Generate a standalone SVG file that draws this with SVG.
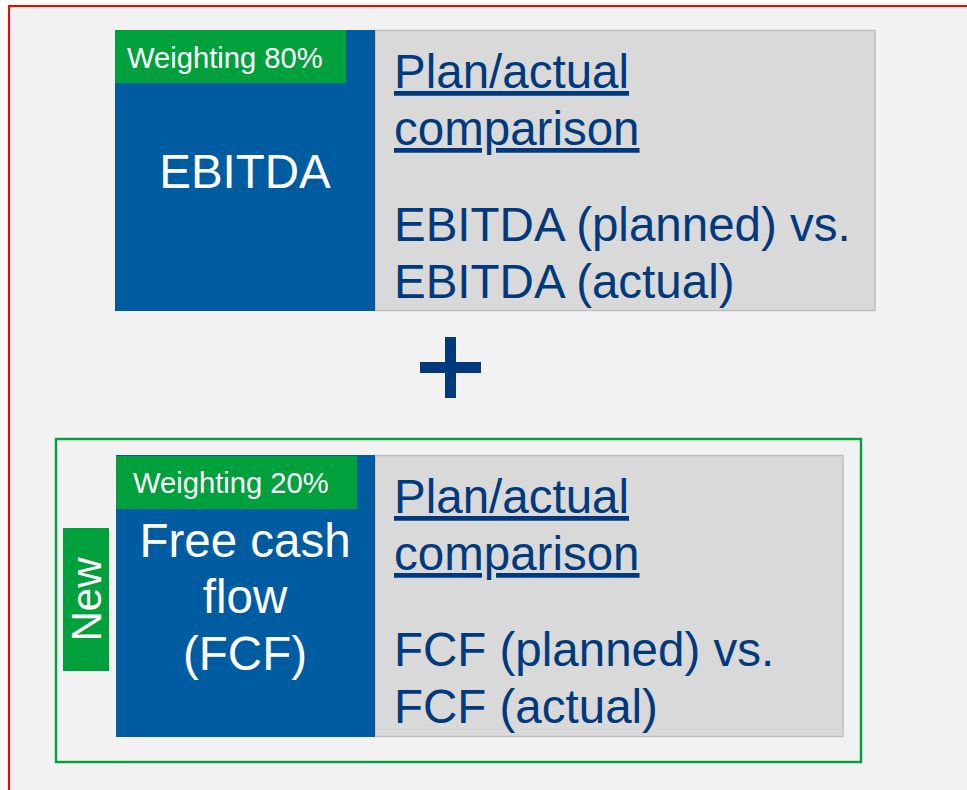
<svg xmlns="http://www.w3.org/2000/svg" width="967" height="790" viewBox="0 0 967 790">
  <style>
    text { font-family: "Liberation Sans", Arial, sans-serif; }
    .kpi { fill: #005ca1; }
    .detail { fill: #d9d9d9; stroke: #c0c0c0; stroke-width: 1.5; }
    .tag { fill: #00a03c; }
    .tag-text { fill: #ffffff; font-size: 29.2px; }
    .kpi-text { fill: #ffffff; font-size: 47.5px; text-anchor: middle; }
    .detail-text { fill: #003a7d; font-size: 47.5px; }
    .ul { text-decoration: underline; }
    .plus { fill: #003a7d; }
  </style>

  <!-- page background and frame -->
  <rect x="0" y="0" width="967" height="790" fill="#ffffff"/>
  <rect x="9" y="6" width="970" height="800" fill="#f2f2f2" stroke="#ff0000" stroke-width="2"/>

  <!-- EBITDA block -->
  <g id="ebitda">
    <rect class="detail" x="375" y="30.5" width="500" height="280"/>
    <rect class="kpi" x="115" y="30" width="260" height="281"/>
    <rect class="tag" x="115" y="30" width="231" height="53"/>
    <text class="tag-text" x="127" y="68">Weighting 80%</text>
    <text class="kpi-text" x="245" y="188">EBITDA</text>
    <text class="detail-text" x="394" y="88"><tspan class="ul">Plan/actual</tspan></text>
    <text class="detail-text" x="394" y="145"><tspan class="ul">comparison</tspan></text>
    <text class="detail-text" x="394" y="241">EBITDA (planned) vs.</text>
    <text class="detail-text" x="394" y="298">EBITDA (actual)</text>
  </g>

  <!-- plus sign -->
  <g id="plus">
    <rect class="plus" x="445" y="337" width="11" height="61"/>
    <rect class="plus" x="420" y="362" width="61" height="11"/>
  </g>

  <!-- new KPI frame -->
  <g id="new-frame">
    <rect x="56" y="439" width="805" height="323" fill="none" stroke="#00a03c" stroke-width="2.4"/>
    <rect class="tag" x="63" y="528" width="46" height="143"/>
    <text class="tag-text" x="0" y="0" style="font-size:42px" text-anchor="middle" transform="translate(101 599.5) rotate(-90)">New</text>
  </g>

  <!-- FCF block -->
  <g id="fcf">
    <rect class="detail" x="375" y="455.5" width="468" height="281"/>
    <rect class="kpi" x="116" y="455" width="259" height="282"/>
    <rect class="tag" x="116" y="456" width="241" height="53"/>
    <text class="tag-text" x="133" y="493">Weighting 20%</text>
    <text class="kpi-text" x="245" y="557">Free cash</text>
    <text class="kpi-text" x="245" y="613">flow</text>
    <text class="kpi-text" x="245" y="670">(FCF)</text>
    <text class="detail-text" x="394" y="513"><tspan class="ul">Plan/actual</tspan></text>
    <text class="detail-text" x="394" y="570"><tspan class="ul">comparison</tspan></text>
    <text class="detail-text" x="394" y="666">FCF (planned) vs.</text>
    <text class="detail-text" x="394" y="723">FCF (actual)</text>
  </g>

  <g id="connectors"></g>
</svg>
